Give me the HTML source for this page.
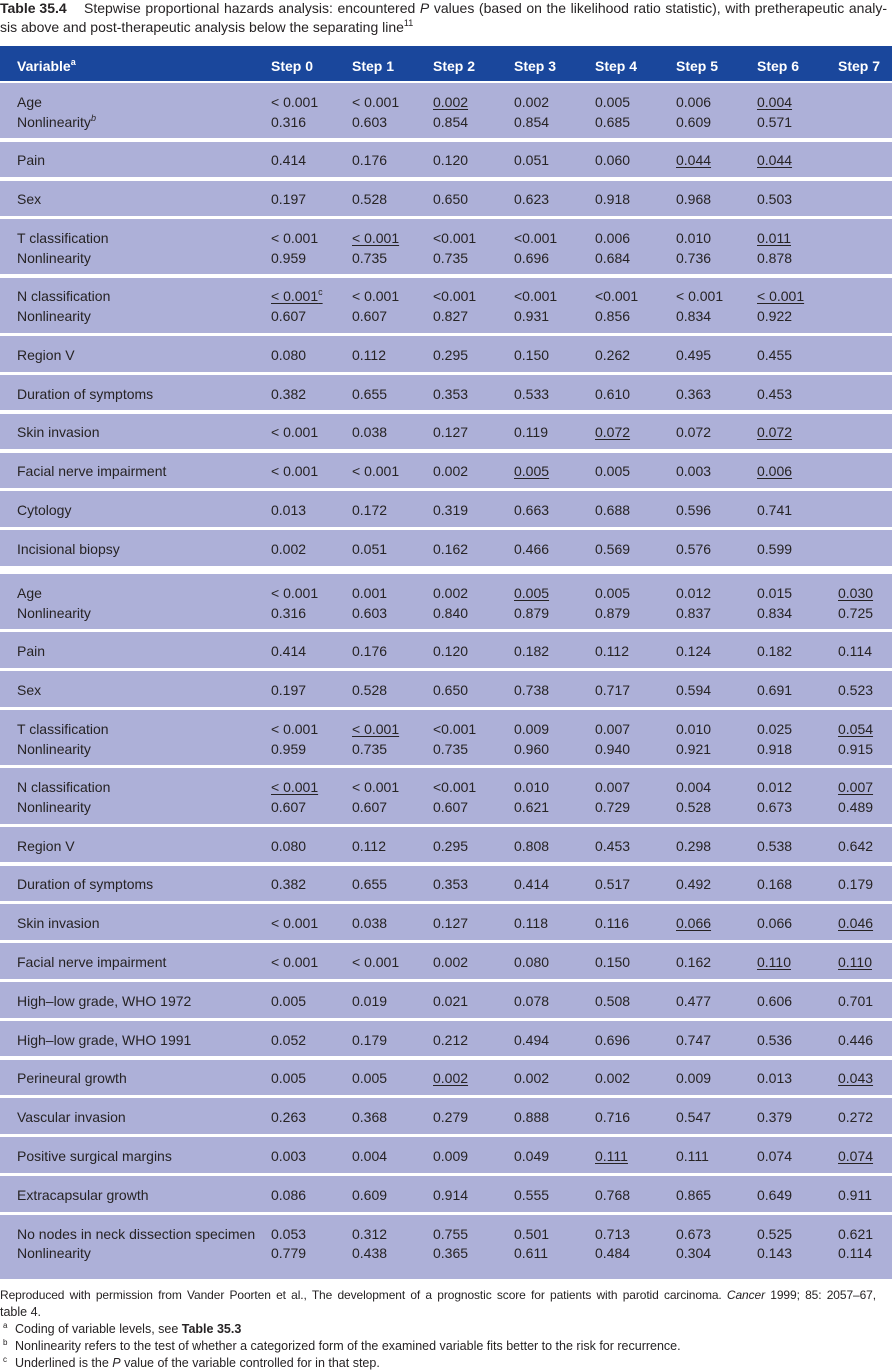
<!DOCTYPE html>
<html>
<head>
<meta charset="utf-8">
<style>
html,body{margin:0;padding:0;}
body{width:892px;height:1371px;overflow:hidden;background:#fff;position:relative;font-family:"Liberation Sans",Arial,sans-serif;color:#262324;font-size:14px;}
.t{position:absolute;white-space:nowrap;font-size:14px;line-height:16px;}
.hd{position:absolute;left:0;top:46px;width:892px;height:34.7px;background:#1a479c;color:#fff;font-weight:bold;}
.hd div{position:absolute;top:10.6px;line-height:19.7px;white-space:nowrap;}
.r{position:absolute;left:0;width:892px;background:#adb0d8;}
.r div{position:absolute;top:9.8px;line-height:19.7px;white-space:nowrap;}
.l{left:17px}
.c0{left:271px}.c1{left:352px}.c2{left:433px}.c3{left:514px}
.c4{left:595px}.c5{left:676px}.c6{left:757px}.c7{left:838px}
u{text-decoration:underline;text-decoration-thickness:1px;text-underline-offset:2px;}
sup{font-size:9px;line-height:0;vertical-align:6px;}
.fn{position:absolute;font-size:12.5px;line-height:16px;white-space:nowrap;}
.fn sup{font-size:8px;vertical-align:5px;}
</style>
</head>
<body>

<div class="t" style="left:0;top:0;"><b>Table 35.4</b></div>
<div class="t" style="left:84px;top:0;width:803px;white-space:normal;text-align:justify;text-align-last:justify;">Stepwise proportional hazards analysis: encountered <i>P</i> values (based on the likelihood ratio statistic), with pretherapeutic analy-</div>
<div class="t" style="left:0;top:18.7px;">sis above and post-therapeutic analysis below the separating line<sup>11</sup></div>

<div class="hd">
<div class="l">Variable<sup>a</sup></div>
<div class="c0">Step 0</div><div class="c1">Step 1</div><div class="c2">Step 2</div><div class="c3">Step 3</div>
<div class="c4">Step 4</div><div class="c5">Step 5</div><div class="c6">Step 6</div><div class="c7">Step 7</div>
</div>

<!-- Section 1 -->
<div class="r" style="top:83.3px;height:55.2px">
<div class="l">Age<br>Nonlinearity<sup><i>b</i></sup></div>
<div class="c0">&lt; 0.001<br>0.316</div><div class="c1">&lt; 0.001<br>0.603</div><div class="c2"><u>0.002</u><br>0.854</div><div class="c3">0.002<br>0.854</div><div class="c4">0.005<br>0.685</div><div class="c5">0.006<br>0.609</div><div class="c6"><u>0.004</u><br>0.571</div>
</div>
<div class="r" style="top:141.7px;height:35.6px">
<div class="l">Pain</div>
<div class="c0">0.414</div><div class="c1">0.176</div><div class="c2">0.120</div><div class="c3">0.051</div><div class="c4">0.060</div><div class="c5"><u>0.044</u></div><div class="c6"><u>0.044</u></div>
</div>
<div class="r" style="top:180.5px;height:35.6px">
<div class="l">Sex</div>
<div class="c0">0.197</div><div class="c1">0.528</div><div class="c2">0.650</div><div class="c3">0.623</div><div class="c4">0.918</div><div class="c5">0.968</div><div class="c6">0.503</div>
</div>
<div class="r" style="top:219.3px;height:55.2px">
<div class="l">T classification<br>Nonlinearity</div>
<div class="c0">&lt; 0.001<br>0.959</div><div class="c1"><u>&lt; 0.001</u><br>0.735</div><div class="c2">&lt;0.001<br>0.735</div><div class="c3">&lt;0.001<br>0.696</div><div class="c4">0.006<br>0.684</div><div class="c5">0.010<br>0.736</div><div class="c6"><u>0.011</u><br>0.878</div>
</div>
<div class="r" style="top:277.7px;height:55.2px">
<div class="l">N classification<br>Nonlinearity</div>
<div class="c0"><u>&lt; 0.001<sup>c</sup></u><br>0.607</div><div class="c1">&lt; 0.001<br>0.607</div><div class="c2">&lt;0.001<br>0.827</div><div class="c3">&lt;0.001<br>0.931</div><div class="c4">&lt;0.001<br>0.856</div><div class="c5">&lt; 0.001<br>0.834</div><div class="c6"><u>&lt; 0.001</u><br>0.922</div>
</div>
<div class="r" style="top:336.1px;height:35.6px">
<div class="l">Region V</div>
<div class="c0">0.080</div><div class="c1">0.112</div><div class="c2">0.295</div><div class="c3">0.150</div><div class="c4">0.262</div><div class="c5">0.495</div><div class="c6">0.455</div>
</div>
<div class="r" style="top:374.9px;height:35.6px">
<div class="l">Duration of symptoms</div>
<div class="c0">0.382</div><div class="c1">0.655</div><div class="c2">0.353</div><div class="c3">0.533</div><div class="c4">0.610</div><div class="c5">0.363</div><div class="c6">0.453</div>
</div>
<div class="r" style="top:413.7px;height:35.6px">
<div class="l">Skin invasion</div>
<div class="c0">&lt; 0.001</div><div class="c1">0.038</div><div class="c2">0.127</div><div class="c3">0.119</div><div class="c4"><u>0.072</u></div><div class="c5">0.072</div><div class="c6"><u>0.072</u></div>
</div>
<div class="r" style="top:452.5px;height:35.6px">
<div class="l">Facial nerve impairment</div>
<div class="c0">&lt; 0.001</div><div class="c1">&lt; 0.001</div><div class="c2">0.002</div><div class="c3"><u>0.005</u></div><div class="c4">0.005</div><div class="c5">0.003</div><div class="c6"><u>0.006</u></div>
</div>
<div class="r" style="top:491.3px;height:35.6px">
<div class="l">Cytology</div>
<div class="c0">0.013</div><div class="c1">0.172</div><div class="c2">0.319</div><div class="c3">0.663</div><div class="c4">0.688</div><div class="c5">0.596</div><div class="c6">0.741</div>
</div>
<div class="r" style="top:530.1px;height:35.6px">
<div class="l">Incisional biopsy</div>
<div class="c0">0.002</div><div class="c1">0.051</div><div class="c2">0.162</div><div class="c3">0.466</div><div class="c4">0.569</div><div class="c5">0.576</div><div class="c6">0.599</div>
</div>

<!-- Section 2 -->
<div class="r" style="top:574px;height:55.2px">
<div class="l">Age<br>Nonlinearity</div>
<div class="c0">&lt; 0.001<br>0.316</div><div class="c1">0.001<br>0.603</div><div class="c2">0.002<br>0.840</div><div class="c3"><u>0.005</u><br>0.879</div><div class="c4">0.005<br>0.879</div><div class="c5">0.012<br>0.837</div><div class="c6">0.015<br>0.834</div><div class="c7"><u>0.030</u><br>0.725</div>
</div>
<div class="r" style="top:632.4px;height:35.6px">
<div class="l">Pain</div>
<div class="c0">0.414</div><div class="c1">0.176</div><div class="c2">0.120</div><div class="c3">0.182</div><div class="c4">0.112</div><div class="c5">0.124</div><div class="c6">0.182</div><div class="c7">0.114</div>
</div>
<div class="r" style="top:671.2px;height:35.6px">
<div class="l">Sex</div>
<div class="c0">0.197</div><div class="c1">0.528</div><div class="c2">0.650</div><div class="c3">0.738</div><div class="c4">0.717</div><div class="c5">0.594</div><div class="c6">0.691</div><div class="c7">0.523</div>
</div>
<div class="r" style="top:710px;height:55.2px">
<div class="l">T classification<br>Nonlinearity</div>
<div class="c0">&lt; 0.001<br>0.959</div><div class="c1"><u>&lt; 0.001</u><br>0.735</div><div class="c2">&lt;0.001<br>0.735</div><div class="c3">0.009<br>0.960</div><div class="c4">0.007<br>0.940</div><div class="c5">0.010<br>0.921</div><div class="c6">0.025<br>0.918</div><div class="c7"><u>0.054</u><br>0.915</div>
</div>
<div class="r" style="top:768.4px;height:55.2px">
<div class="l">N classification<br>Nonlinearity</div>
<div class="c0"><u>&lt; 0.001</u><br>0.607</div><div class="c1">&lt; 0.001<br>0.607</div><div class="c2">&lt;0.001<br>0.607</div><div class="c3">0.010<br>0.621</div><div class="c4">0.007<br>0.729</div><div class="c5">0.004<br>0.528</div><div class="c6">0.012<br>0.673</div><div class="c7"><u>0.007</u><br>0.489</div>
</div>
<div class="r" style="top:826.8px;height:35.6px">
<div class="l">Region V</div>
<div class="c0">0.080</div><div class="c1">0.112</div><div class="c2">0.295</div><div class="c3">0.808</div><div class="c4">0.453</div><div class="c5">0.298</div><div class="c6">0.538</div><div class="c7">0.642</div>
</div>
<div class="r" style="top:865.6px;height:35.6px">
<div class="l">Duration of symptoms</div>
<div class="c0">0.382</div><div class="c1">0.655</div><div class="c2">0.353</div><div class="c3">0.414</div><div class="c4">0.517</div><div class="c5">0.492</div><div class="c6">0.168</div><div class="c7">0.179</div>
</div>
<div class="r" style="top:904.4px;height:35.6px">
<div class="l">Skin invasion</div>
<div class="c0">&lt; 0.001</div><div class="c1">0.038</div><div class="c2">0.127</div><div class="c3">0.118</div><div class="c4">0.116</div><div class="c5"><u>0.066</u></div><div class="c6">0.066</div><div class="c7"><u>0.046</u></div>
</div>
<div class="r" style="top:943.2px;height:35.6px">
<div class="l">Facial nerve impairment</div>
<div class="c0">&lt; 0.001</div><div class="c1">&lt; 0.001</div><div class="c2">0.002</div><div class="c3">0.080</div><div class="c4">0.150</div><div class="c5">0.162</div><div class="c6"><u>0.110</u></div><div class="c7"><u>0.110</u></div>
</div>
<div class="r" style="top:982px;height:35.6px">
<div class="l">High–low grade, WHO 1972</div>
<div class="c0">0.005</div><div class="c1">0.019</div><div class="c2">0.021</div><div class="c3">0.078</div><div class="c4">0.508</div><div class="c5">0.477</div><div class="c6">0.606</div><div class="c7">0.701</div>
</div>
<div class="r" style="top:1020.8px;height:35.6px">
<div class="l">High–low grade, WHO 1991</div>
<div class="c0">0.052</div><div class="c1">0.179</div><div class="c2">0.212</div><div class="c3">0.494</div><div class="c4">0.696</div><div class="c5">0.747</div><div class="c6">0.536</div><div class="c7">0.446</div>
</div>
<div class="r" style="top:1059.6px;height:35.6px">
<div class="l">Perineural growth</div>
<div class="c0">0.005</div><div class="c1">0.005</div><div class="c2"><u>0.002</u></div><div class="c3">0.002</div><div class="c4">0.002</div><div class="c5">0.009</div><div class="c6">0.013</div><div class="c7"><u>0.043</u></div>
</div>
<div class="r" style="top:1098.4px;height:35.6px">
<div class="l">Vascular invasion</div>
<div class="c0">0.263</div><div class="c1">0.368</div><div class="c2">0.279</div><div class="c3">0.888</div><div class="c4">0.716</div><div class="c5">0.547</div><div class="c6">0.379</div><div class="c7">0.272</div>
</div>
<div class="r" style="top:1137.2px;height:35.6px">
<div class="l">Positive surgical margins</div>
<div class="c0">0.003</div><div class="c1">0.004</div><div class="c2">0.009</div><div class="c3">0.049</div><div class="c4"><u>0.111</u></div><div class="c5">0.111</div><div class="c6">0.074</div><div class="c7"><u>0.074</u></div>
</div>
<div class="r" style="top:1176px;height:35.6px">
<div class="l">Extracapsular growth</div>
<div class="c0">0.086</div><div class="c1">0.609</div><div class="c2">0.914</div><div class="c3">0.555</div><div class="c4">0.768</div><div class="c5">0.865</div><div class="c6">0.649</div><div class="c7">0.911</div>
</div>
<div class="r" style="top:1214.8px;height:64.2px">
<div class="l">No nodes in neck dissection specimen<br>Nonlinearity</div>
<div class="c0">0.053<br>0.779</div><div class="c1">0.312<br>0.438</div><div class="c2">0.755<br>0.365</div><div class="c3">0.501<br>0.611</div><div class="c4">0.713<br>0.484</div><div class="c5">0.673<br>0.304</div><div class="c6">0.525<br>0.143</div><div class="c7">0.621<br>0.114</div>
</div>

<!-- Footnotes -->
<div class="fn" style="left:0;top:1287.3px;width:876px;height:16px;overflow:hidden;white-space:normal;text-align:justify;text-align-last:justify;font-size:12px;letter-spacing:-0.1px;">Reproduced with permission from Vander Poorten et al., The development of a prognostic score for patients with parotid carcinoma. <i>Cancer</i> 1999; 85: 2057–67,</div>
<div class="fn" style="left:0;top:1303.7px;">table 4.</div>
<div class="fn" style="left:3px;top:1321.3px;"><sup>a</sup></div>
<div class="fn" style="left:15px;top:1321.3px;">Coding of variable levels, see <b>Table 35.3</b></div>
<div class="fn" style="left:3px;top:1338px;"><sup>b</sup></div>
<div class="fn" style="left:15px;top:1338px;">Nonlinearity refers to the test of whether a categorized form of the examined variable fits better to the risk for recurrence.</div>
<div class="fn" style="left:3px;top:1354.7px;"><sup>c</sup></div>
<div class="fn" style="left:15px;top:1354.7px;">Underlined is the <i>P</i> value of the variable controlled for in that step.</div>

</body>
</html>
